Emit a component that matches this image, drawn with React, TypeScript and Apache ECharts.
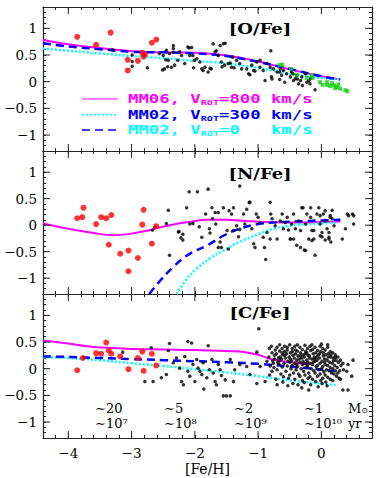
import React, { useEffect, useRef } from 'react';
import * as echarts from 'echarts';

const XMIN = -4.4, XMAX = 0.8, YMIN = -1.3, YMAX = 1.4;
const X_MAJOR = [-4, -3, -2, -1, 0];
const Y_MAJOR = [-1, -0.5, 0, 0.5, 1];

// [O/Fe]
const O_MAG = [[-4.4,0.78],[-4.0,0.70],[-3.5,0.63],[-3.0,0.57],[-2.5,0.55],[-2.0,0.54],[-1.5,0.49],[-1.0,0.38],[-0.5,0.23],[0.0,0.10],[0.25,0.05]];
const O_BLUE = [[-4.4,0.72],[-4.0,0.66],[-3.5,0.61],[-3.0,0.56],[-2.5,0.55],[-2.0,0.53],[-1.5,0.48],[-1.0,0.37],[-0.5,0.24],[0.0,0.10],[0.3,0.04]];
const O_CYAN = [[-4.4,0.62],[-4.0,0.58],[-3.5,0.53],[-3.0,0.48],[-2.5,0.44],[-2.0,0.39],[-1.5,0.34],[-1.0,0.26],[-0.5,0.15],[0.0,0.07],[0.3,0.04]];
const O_RED = [[-3.86,0.84],[-3.56,0.69],[-3.33,0.92],[-3.06,0.41],[-3.06,0.21],[-2.90,0.39],[-2.83,0.54],[-2.81,0.47],[-2.79,0.51],[-2.68,0.73],[-2.61,0.79]];
const O_BLACK = [[-3.30,0.60],[-2.99,0.38],[-2.99,0.29],[-2.99,0.50],[-2.75,0.26],[-2.56,0.53],[-2.50,0.49],[-2.45,0.59],[-2.40,0.53],[-2.34,0.68],[-2.34,0.62],[-2.34,0.55],[-2.42,0.40],[-2.48,0.24],[-2.37,0.27],[-2.24,0.56],[-2.21,0.49],[-2.16,0.34],[-2.11,0.65],[-2.05,0.64],[-2.08,0.49],[-2.03,0.49],[-1.97,0.43],[-1.92,0.37],[-1.87,0.21],[-1.84,0.27],[-1.79,0.18],[-1.74,0.24],[-1.71,0.71],[-1.68,0.56],[-1.63,0.49],[-1.60,0.68],[-1.55,0.71],[-1.58,0.37],[-1.53,0.31],[-1.47,0.34],[-1.42,0.27],[-1.40,0.46],[-1.34,0.40],[-1.29,0.34],[-1.26,0.24],[-1.15,0.15],[-1.10,0.31],[-1.07,0.21],[-1.02,0.37],[-0.97,0.27],[-0.92,0.21],[-0.89,0.02],[-0.80,0.58],[-0.81,0.27],[-0.79,0.09],[-0.76,0.24],[-0.70,0.18],[-0.65,0.24],[-0.63,0.12],[-0.60,0.21],[-0.55,0.15],[-0.49,0.09],[-0.47,0.18],[-0.41,0.06],[-0.39,0.12],[-0.33,0.02],[-0.31,0.09],[-0.25,0.15],[-0.23,-0.01],[-0.17,0.06],[-0.10,-0.15],[-0.36,-0.04],[-0.44,0.02],[-0.66,0.04],[-0.58,-0.01],[-2.46,0.41],[-2.51,0.22],[-2.43,0.28],[-2.32,0.31],[-2.27,0.40],[-2.09,0.63],[-2.01,0.40],[-2.02,0.26],[-1.89,0.24],[-1.76,0.25],[-1.52,0.72],[-1.66,0.58],[-1.57,0.28],[-1.44,0.35],[-1.38,0.26],[-1.18,0.24],[-1.13,0.13],[-1.05,0.20],[-0.97,0.40],[-0.86,0.34],[-0.78,0.05],[-0.66,0.18],[-0.45,0.15],[-0.38,0.05],[-0.30,-0.07],[-0.20,0.02],[-0.18,-0.04]];
const O_GREEN = [[-0.66,0.31],[-0.62,0.32],[-0.48,0.24],[-0.39,0.13],[-0.23,0.07],[-0.15,0.12],[-0.14,0.07],[-0.02,-0.01],[0.02,-0.06],[0.09,-0.06],[0.09,-0.01],[0.14,-0.08],[0.17,-0.03],[0.20,-0.07],[0.22,-0.12],[0.25,-0.10],[0.27,-0.05],[0.30,-0.13],[0.38,-0.16],[0.41,-0.18]];

// [N/Fe]
const N_MAG = [[-4.4,0.03],[-4.0,-0.07],[-3.6,-0.15],[-3.3,-0.19],[-3.0,-0.16],[-2.7,-0.09],[-2.4,0.0],[-2.1,0.06],[-1.8,0.10],[-1.5,0.10],[-1.2,0.08],[-0.9,0.06],[-0.6,0.05],[-0.3,0.05],[0.0,0.06],[0.3,0.07]];
const N_BLUE = [[-2.72,-1.3],[-2.55,-1.05],[-2.35,-0.80],[-2.2,-0.64],[-2.05,-0.52],[-1.8,-0.38],[-1.55,-0.20],[-1.3,-0.07],[-1.0,0.02],[-0.75,0.05],[-0.4,0.07],[0.0,0.09],[0.3,0.10]];
const N_CYAN = [[-2.29,-1.3],[-2.15,-1.05],[-1.97,-0.82],[-1.75,-0.62],[-1.55,-0.48],[-1.3,-0.32],[-1.0,-0.17],[-0.75,-0.07],[-0.5,-0.01],[-0.2,0.02],[0.25,0.05]];
const N_RED = [[-3.86,0.13],[-3.78,0.15],[-3.76,0.33],[-3.56,0.02],[-3.48,0.15],[-3.40,0.13],[-3.32,0.19],[-3.36,-0.37],[-3.18,-0.54],[-3.05,-0.48],[-3.05,-0.87],[-2.90,-0.62],[-2.83,0.01],[-2.81,0.29],[-2.68,-0.35],[-2.61,-0.02]];
const N_BLACK = [[-2.67,-0.09],[-2.63,-0.04],[-2.45,0.03],[-2.42,0.28],[-2.40,-0.57],[-2.25,-0.12],[-2.19,-0.17],[-2.19,-0.28],[-2.13,0.33],[-2.09,0.63],[-2.08,0.02],[-2.03,0.03],[-1.96,0.63],[-1.93,-0.03],[-1.89,-0.23],[-1.83,0.21],[-1.79,0.68],[-1.77,-0.07],[-1.76,-0.15],[-1.73,0.33],[-1.72,0.12],[-1.68,0.24],[-1.67,0.02],[-1.63,0.24],[-1.60,-0.32],[-1.58,-0.42],[-1.55,0.33],[-1.49,-0.10],[-1.46,0.27],[-1.42,0.21],[-1.39,-0.10],[-1.34,-0.01],[-1.31,-0.22],[-1.29,0.74],[-1.29,-0.08],[-1.23,0.21],[-1.21,0.02],[-1.18,0.30],[-1.13,0.43],[-1.10,-0.07],[-1.07,-0.35],[-1.03,0.21],[-1.00,0.15],[-0.97,0.05],[-0.92,-0.23],[-0.90,-0.42],[-0.88,-0.65],[-0.86,-0.14],[-0.81,0.43],[-0.80,0.21],[-0.78,0.12],[-0.73,-0.01],[-0.70,-0.26],[-0.65,0.08],[-0.62,0.21],[-0.60,-0.07],[-0.57,0.05],[-0.54,0.15],[-0.52,-0.09],[-0.49,-0.26],[-0.47,0.02],[-0.44,0.21],[-0.41,-0.07],[-0.39,-0.38],[-0.36,0.08],[-0.33,-0.10],[-0.29,0.33],[-0.27,-0.47],[-0.25,0.02],[-0.23,0.21],[-0.20,-0.26],[-0.17,0.15],[-0.15,-0.10],[-0.12,-0.26],[-0.10,-0.57],[-0.07,0.21],[-0.04,0.33],[-0.02,0.02],[0.01,-0.14],[0.03,0.21],[0.06,0.08],[0.09,-0.07],[0.12,-0.23],[0.14,0.15],[0.15,-0.32],[0.17,0.28],[0.20,-0.01],[0.33,-0.26],[0.41,0.21],[0.49,0.21],[0.51,0.02],[0.01,-0.22],[0.06,-0.28],[-0.15,-0.29],[-1.63,-0.42],[-1.47,-0.45],[-1.05,-0.42],[-0.33,-0.42],[-0.25,-0.48],[0.38,-0.07],[0.43,0.18],[0.51,0.18],[-0.31,0.33],[-0.17,0.33],[-0.02,0.18],[0.06,0.27],[0.14,0.18],[0.17,0.12],[0.12,-0.14],[0.12,-0.26],[-0.02,-0.20],[-0.12,-0.10],[-0.49,-0.26],[-0.44,-0.26],[-0.81,-0.26],[-1.14,0.43],[-1.39,0.33],[-2.26,-0.13],[-2.22,-0.24]];

// [C/Fe]
const C_MAG = [[-4.4,0.53],[-4.0,0.47],[-3.7,0.42],[-3.4,0.39],[-3.0,0.37],[-2.5,0.36],[-2.0,0.35],[-1.5,0.33],[-1.2,0.31],[-1.0,0.26],[-0.8,0.18],[-0.6,0.14],[-0.4,0.11],[-0.2,0.08]];
const C_BLUE = [[-4.4,0.23],[-4.0,0.22],[-3.5,0.20],[-3.0,0.18],[-2.5,0.16],[-2.0,0.14],[-1.5,0.12],[-1.0,0.09],[-0.5,0.04],[0.0,-0.02],[0.2,-0.05]];
const C_CYAN = [[-4.4,0.21],[-4.0,0.20],[-3.5,0.16],[-3.0,0.10],[-2.5,0.05],[-2.0,-0.01],[-1.5,-0.07],[-1.0,-0.14],[-0.5,-0.22],[0.0,-0.28],[0.25,-0.31]];
const C_RED = [[-3.86,-0.03],[-3.77,0.20],[-3.56,0.29],[-3.48,0.28],[-3.40,0.49],[-3.36,0.34],[-3.32,0.28],[-3.18,0.23],[-3.05,-0.01],[-2.90,0.20],[-2.83,0.32],[-2.81,-0.04],[-2.68,0.28],[-2.61,0.06]];
const C_BLACK = [[-3.14,0.31],[-2.79,-0.24],[-2.66,-0.24],[-2.69,0.39],[-2.53,-0.17],[-2.45,-0.11],[-2.40,0.47],[-2.42,0.34],[-2.34,0.11],[-2.29,0.20],[-2.24,0.01],[-2.21,-0.24],[-2.18,-0.30],[-2.16,0.23],[-2.11,0.51],[-2.11,-0.05],[-2.08,-0.14],[-2.05,0.48],[-2.03,0.08],[-2.00,-0.24],[-1.97,0.17],[-1.95,0.01],[-1.92,-0.05],[-1.89,-0.11],[-1.87,0.11],[-1.86,-0.38],[-1.81,-0.17],[-1.79,0.43],[-1.77,-0.02],[-1.73,0.17],[-1.71,-0.08],[-1.68,-0.24],[-1.66,-0.30],[-1.63,0.08],[-1.60,-0.02],[-1.58,-0.13],[-1.55,-0.51],[-1.50,-0.51],[-1.44,-0.51],[-1.52,-0.21],[-1.44,0.17],[-1.39,-0.24],[-1.37,-0.02],[-1.29,0.08],[-1.18,0.04],[-1.13,-0.11],[-1.02,0.31],[-1.02,-0.28],[-0.99,0.75],[-0.97,0.04],[-0.89,-0.24],[-0.86,0.14],
[-0.82,0.38],[-0.83,0.22],[-0.81,0.05],[-0.82,-0.12],[-0.78,0.30],[-0.77,0.15],[-0.79,0.42],[-0.78,-0.05],[-0.76,0.10],[-0.74,0.25],[-0.73,0.35],[-0.75,0.02],[-0.74,0.18],[-0.72,-0.20],[-0.70,0.40],[-0.71,0.28],[-0.69,0.12],[-0.70,-0.02],[-0.68,0.20],[-0.70,-0.30],[-0.66,0.33],[-0.65,0.22],[-0.67,0.08],[-0.66,0.45],[-0.64,-0.10],[-0.66,0.15],[-0.62,0.38],[-0.61,0.26],[-0.63,0.18],[-0.62,0.03],[-0.60,-0.15],[-0.62,0.30],[-0.61,-0.25],[-0.58,0.42],[-0.57,0.20],[-0.59,0.10],[-0.58,0.32],[-0.56,-0.05],[-0.58,0.25],[-0.54,0.35],[-0.53,0.14],[-0.55,0.28],[-0.54,0.05],[-0.52,-0.18],[-0.54,0.40],[-0.53,-0.32],[-0.50,0.45],[-0.49,0.30],[-0.51,0.22],[-0.50,0.12],[-0.48,0.00],[-0.50,-0.12],[-0.49,0.18],[-0.46,0.38],[-0.45,0.25],[-0.47,0.15],[-0.46,0.06],[-0.44,-0.08],[-0.46,0.32],[-0.45,-0.28],[-0.42,0.42],[-0.41,0.28],[-0.43,0.20],[-0.42,0.10],[-0.40,-0.02],[-0.42,-0.20],[-0.41,0.35],[-0.38,0.33],[-0.37,0.24],[-0.39,0.16],[-0.38,0.04],[-0.36,-0.10],[-0.38,0.45],[-0.37,-0.30],[-0.39,0.08],[-0.34,0.40],[-0.33,0.30],[-0.35,0.18],[-0.34,0.12],[-0.32,0.00],[-0.34,-0.14],[-0.33,0.24],[-0.30,0.36],[-0.29,0.26],[-0.31,0.20],[-0.30,0.08],[-0.28,-0.05],[-0.30,-0.22],[-0.29,0.14],[-0.31,-0.36],[-0.26,0.44],[-0.25,0.32],[-0.27,0.22],[-0.26,0.10],[-0.24,0.02],[-0.26,-0.12],[-0.25,0.28],[-0.27,-0.26],[-0.22,0.38],[-0.21,0.25],[-0.23,0.16],[-0.22,0.06],[-0.20,-0.08],[-0.22,0.12],[-0.21,-0.18],[-0.23,0.30],[-0.18,0.42],[-0.17,0.34],[-0.19,0.20],[-0.18,0.10],[-0.16,0.00],[-0.18,-0.15],[-0.17,-0.30],[-0.19,0.24],[-0.14,0.36],[-0.13,0.28],[-0.15,0.18],[-0.14,0.08],[-0.12,-0.04],[-0.14,-0.20],[-0.13,0.12],[-0.15,0.45],[-0.10,0.40],[-0.09,0.30],[-0.11,0.22],[-0.10,0.14],[-0.08,0.04],[-0.10,-0.08],[-0.09,-0.24],[-0.11,0.18],[-0.06,0.34],[-0.05,0.26],[-0.07,0.16],[-0.06,0.06],[-0.04,-0.02],[-0.06,-0.14],[-0.05,-0.34],[-0.07,0.22],[-0.02,0.42],[-0.01,0.32],[-0.03,0.20],[-0.02,0.10],[0.00,0.00],[-0.02,-0.10],[-0.01,-0.22],[-0.03,0.28],[0.02,0.38],[0.03,0.24],[0.01,0.14],[0.02,0.04],[0.04,-0.06],[0.02,-0.18],[0.03,0.30],[0.01,-0.28],[0.06,0.35],[0.07,0.26],[0.05,0.18],[0.06,0.08],[0.08,-0.02],[0.06,-0.12],[0.07,-0.25],[0.05,0.12],[0.10,0.40],[0.11,0.28],[0.09,0.16],[0.10,0.06],[0.12,-0.04],[0.10,-0.16],[0.11,0.22],[0.09,-0.32],[0.14,0.32],[0.15,0.22],[0.13,0.12],[0.14,0.02],[0.16,-0.08],[0.14,-0.20],[0.15,0.26],[0.18,0.30],[0.19,0.20],[0.17,0.10],[0.18,0.00],[0.20,-0.10],[0.18,-0.22],[0.19,0.15],[0.22,0.26],[0.23,0.16],[0.21,0.06],[0.22,-0.04],[0.24,-0.14],[0.22,0.22],[0.26,0.22],[0.27,0.12],[0.25,0.02],[0.26,-0.08],[0.28,-0.18],[0.30,0.16],[0.31,0.06],[0.29,-0.04],[0.30,-0.20],[0.34,0.10],[0.35,-0.02],[0.42,0.08],[0.40,-0.05],[0.50,0.16],[0.48,-0.14],[0.42,-0.40],[0.34,-0.40],[-0.20,-0.40],[0.10,0.45],[0.00,0.46]];

const PANELS = [
  { title: '[O/Fe]', titleY: 29, mag: O_MAG, blue: O_BLUE, cyan: O_CYAN, red: O_RED, black: O_BLACK, green: O_GREEN },
  { title: '[N/Fe]', titleY: 174, mag: N_MAG, blue: N_BLUE, cyan: N_CYAN, red: N_RED, black: N_BLACK, green: [] as number[][] },
  { title: '[C/Fe]', titleY: 313, mag: C_MAG, blue: C_BLUE, cyan: C_CYAN, red: C_RED, black: C_BLACK, green: [] as number[][] },
];

const LEGEND = [
  { label: 'MM06, V{sub|ROT}=800 km/s', color: '#ff00ff', line: 'solid' },
  { label: 'MM02, V{sub|ROT}=300 km/s', color: '#0000ff', line: 'dotted' },
  { label: 'MM02, V{sub|ROT}=0   km/s', color: '#00ffff', line: 'dashed' },
];

const MASS_LABELS = ['\u223C20', '\u223C5', '\u223C2', '\u223C1'];
const AGE_LABELS = ['\u223C10\u2077', '\u223C10\u2078', '\u223C10\u2079', '\u223C10\u00B9\u2070'];

const GRID_TOPS = [7, 151, 294];
const GRID_HEIGHTS = [144, 143, 144];
const FRAME = '#222';
const SERIF = 'DejaVu Serif';

function fmtX(v: number) {
  const r = Math.round(v);
  if (Math.abs(v - r) > 1e-6) return '';
  return r < 0 ? '\u2212' + String(-r) : String(r);
}
function fmtY(v: number) {
  const r = Math.round(v * 2) / 2;
  if (Math.abs(v - r) > 1e-6) return '';
  if (r === 0) return '0';
  return (r < 0 ? '\u2212' : '') + String(Math.abs(r));
}

function buildOption() {
  const grid: any[] = [];
  const xAxis: any[] = [];
  const yAxis: any[] = [];
  const series: any[] = [];
  const lineAxis = { show: true, onZero: false, lineStyle: { color: FRAME, width: 1.2 } };
  const tick = { show: true, inside: true, length: 3, lineStyle: { color: FRAME, width: 1 } };

  PANELS.forEach((p, i) => {
    grid.push({ left: 43, width: 329, top: GRID_TOPS[i], height: GRID_HEIGHTS[i], show: false });
    const xb: any = {
      gridIndex: i, type: 'value', min: XMIN, max: XMAX, interval: 0.2, position: 'bottom',
      axisLine: lineAxis, axisTick: tick, splitLine: { show: false },
      axisLabel: { show: i === 2, formatter: fmtX, color: '#000', fontFamily: SERIF, fontSize: 13.5, margin: 8, showMinLabel: true, showMaxLabel: true },
    };
    if (i === 2) {
      xb.name = '[Fe/H]';
      xb.nameLocation = 'middle';
      xb.nameGap = 24;
      xb.nameTextStyle = { color: '#000', fontFamily: SERIF, fontSize: 14 };
    }
    xAxis.push(xb);
    xAxis.push({
      gridIndex: i, type: 'value', min: XMIN, max: XMAX, interval: 0.2, position: 'top',
      axisLine: lineAxis, axisTick: tick, splitLine: { show: false }, axisLabel: { show: false },
    });
    yAxis.push({
      gridIndex: i, type: 'value', min: YMIN, max: YMAX, interval: 0.1, position: 'left',
      axisLine: lineAxis, axisTick: tick, splitLine: { show: false },
      axisLabel: { formatter: fmtY, color: '#000', fontFamily: SERIF, fontSize: 13.5, margin: 6 },
    });
    yAxis.push({
      gridIndex: i, type: 'value', min: YMIN, max: YMAX, interval: 0.1, position: 'right',
      axisLine: lineAxis, axisTick: tick, splitLine: { show: false }, axisLabel: { show: false },
    });
    const xi = i * 2, yi = i * 2;
    const majorData: number[][] = [];
    X_MAJOR.forEach((v) => majorData.push([v, 0, 0]));
    Y_MAJOR.forEach((v) => majorData.push([0, v, 1]));
    series.push({
      type: 'custom', xAxisIndex: xi, yAxisIndex: yi, silent: true, z: 5,
      encode: { x: 0, y: 1 },
      data: majorData,
      renderItem: (params: any, api: any) => {
        const cs = params.coordSys;
        const kind = api.value(2);
        const st = { stroke: FRAME, lineWidth: 1 };
        const L = 7;
        if (kind === 0) {
          const px = api.coord([api.value(0), 0])[0];
          return { type: 'group', children: [
            { type: 'line', shape: { x1: px, y1: cs.y + cs.height, x2: px, y2: cs.y + cs.height - L }, style: st },
            { type: 'line', shape: { x1: px, y1: cs.y, x2: px, y2: cs.y + L }, style: st },
          ] };
        }
        const py = api.coord([0, api.value(1)])[1];
        return { type: 'group', children: [
          { type: 'line', shape: { x1: cs.x, y1: py, x2: cs.x + L, y2: py }, style: st },
          { type: 'line', shape: { x1: cs.x + cs.width, y1: py, x2: cs.x + cs.width - L, y2: py }, style: st },
        ] };
      },
    });
    series.push({
      type: 'line', xAxisIndex: xi, yAxisIndex: yi, data: p.mag, showSymbol: false, smooth: 0.4, silent: true, z: 2,
      lineStyle: { color: '#ff00ff', width: 2 },
    });
    series.push({
      type: 'line', xAxisIndex: xi, yAxisIndex: yi, data: p.cyan, showSymbol: false, smooth: 0.4, silent: true, z: 2,
      lineStyle: { color: '#00ffff', width: 2.5, type: [2, 2] },
    });
    series.push({
      type: 'line', xAxisIndex: xi, yAxisIndex: yi, data: p.blue, showSymbol: false, smooth: 0.4, silent: true, z: 2,
      lineStyle: { color: '#0000ff', width: 2.5, type: [8, 5] },
    });
    series.push({
      type: 'scatter', xAxisIndex: xi, yAxisIndex: yi, data: p.black, symbolSize: 3.5, silent: true, z: 3,
      itemStyle: { color: '#000' },
    });
    if (p.green.length) {
      series.push({
        type: 'scatter', xAxisIndex: xi, yAxisIndex: yi, data: p.green, symbol: 'rect', symbolSize: 4, silent: true, z: 3,
        itemStyle: { color: '#11cc11' },
      });
    }
    series.push({
      type: 'scatter', xAxisIndex: xi, yAxisIndex: yi, data: p.red, symbolSize: 6, silent: true, z: 4,
      itemStyle: { color: '#ff0000' },
    });
  });

  const graphic: any[] = [];
  PANELS.forEach((p) => {
    graphic.push({
      type: 'text', x: 260, y: p.titleY, scaleX: 1.2, z: 10,
      style: { text: p.title, fill: '#000', font: `bold 15px "${SERIF}"`, align: 'center', verticalAlign: 'middle' },
    });
  });
  const legendY = [99, 114.7, 130];
  LEGEND.forEach((l, k) => {
    const dash = l.line === 'dotted' ? [2, 2] : l.line === 'dashed' ? [8, 5] : null;
    graphic.push({
      type: 'line', z: 10,
      shape: { x1: 82, y1: legendY[k], x2: 118, y2: legendY[k] },
      style: { stroke: k === 0 ? '#ff00ff' : k === 1 ? '#00ffff' : '#0000ff', lineWidth: k === 0 ? 1.2 : 1.5, lineDash: dash },
    });
    graphic.push({
      type: 'text', x: 128, y: legendY[k], scaleX: 1.44, z: 10,
      style: {
        text: l.label, fill: l.color, fontFamily: 'DejaVu Sans Mono', fontWeight: 'bold', fontSize: 12,
        lineHeight: 14, align: 'left', verticalAlign: 'middle',
        rich: { sub: { fontFamily: 'DejaVu Sans Mono', fontWeight: 'bold', fontSize: 7, lineHeight: 5, verticalAlign: 'bottom', fill: l.color } },
      },
    });
  });
  const colX = [95, 164, 234, 304];
  MASS_LABELS.forEach((t, k) => {
    graphic.push({ type: 'text', x: colX[k], y: 408, z: 10, style: { text: t, fill: '#000', fontFamily: SERIF, fontSize: 13, align: 'left', verticalAlign: 'middle' } });
    graphic.push({ type: 'text', x: colX[k], y: 423, z: 10, style: { text: AGE_LABELS[k], fill: '#000', fontFamily: SERIF, fontSize: 13, align: 'left', verticalAlign: 'middle' } });
  });
  graphic.push({
    type: 'text', x: 348, y: 408, z: 10,
    style: { text: 'M{sub|\u2299}', fill: '#000', fontFamily: SERIF, fontSize: 13, lineHeight: 13, align: 'left', verticalAlign: 'middle',
      rich: { sub: { fontFamily: SERIF, fontSize: 8, lineHeight: 4, verticalAlign: 'bottom', fill: '#000' } } },
  });
  graphic.push({ type: 'text', x: 348, y: 423, z: 10, style: { text: 'yr', fill: '#000', fontFamily: SERIF, fontSize: 13, align: 'left', verticalAlign: 'middle' } });

  return { animation: false, backgroundColor: '#fff', grid, xAxis, yAxis, series, graphic };
}

export default function App() {
  const ref = useRef<HTMLDivElement>(null);
  useEffect(() => {
    const chart = echarts.init(ref.current!, null, { renderer: 'svg' });
    chart.setOption(buildOption() as any);
    return () => chart.dispose();
  }, []);
  return <div ref={ref} style={{ position: 'fixed', left: 0, top: 0, width: 382, height: 478, background: '#fff' }} />;
}
